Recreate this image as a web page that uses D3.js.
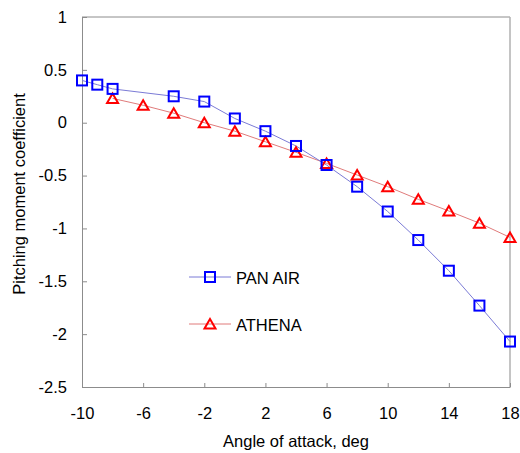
<!DOCTYPE html>
<html><head><meta charset="utf-8">
<script src="https://cdn.jsdelivr.net/npm/d3@7"></script>
<style>body{margin:0;background:#fff}svg text{font-family:"Liberation Sans",Arial,sans-serif;fill:#000}</style>
</head><body><svg id="c" width="520" height="453"></svg>
<script>
const panAirX = [-10,-9,-8,-4,-2,0,2,4,6,8,10,12,14,16,18];
const panAirY = [0.40,0.36,0.32,0.25,0.20,0.04,-0.08,-0.22,-0.40,-0.605,-0.84,-1.11,-1.40,-1.73,-2.07];
const athenaX = [-8,-6,-4,-2,0,2,4,6,8,10,12,14,16,18];
const athenaY = [0.23,0.165,0.09,0.0,-0.08,-0.18,-0.28,-0.385,-0.495,-0.605,-0.725,-0.835,-0.95,-1.085];
const xTicks = [-10,-6,-2,2,6,10,14,18];
const yTicks = [1,0.5,0,-0.5,-1,-1.5,-2,-2.5];
const seriesNames = ["PAN AIR","ATHENA"];

const svg = d3.select("#c");
const L=82,R=510,T=17,B=387;
const FS=16.5;
const x = d3.scaleLinear().domain([-10,18]).range([L,R]);
const y = d3.scaleLinear().domain([-2.5,1]).range([B,T]);
const axisCol="#8c8c8c";

// frame top/right
svg.append("line").attr("x1",L).attr("x2",R).attr("y1",T).attr("y2",T).attr("stroke",axisCol);
svg.append("line").attr("x1",R).attr("x2",R).attr("y1",T).attr("y2",B).attr("stroke","#b0b0b0").attr("stroke-width",1.5);

const xa = svg.append("g").attr("transform",`translate(0,${B})`)
  .call(d3.axisBottom(x).tickValues(xTicks).tickFormat(d=>String(d)).tickSizeInner(-4).tickSizeOuter(0));
const ya = svg.append("g").attr("transform",`translate(${L},0)`)
  .call(d3.axisLeft(y).tickValues(yTicks).tickFormat(d=>String(d)).tickSizeInner(-5).tickSizeOuter(0).tickPadding(15));
[xa,ya].forEach(a=>{a.select(".domain").attr("stroke",axisCol);a.selectAll(".tick line").attr("stroke",axisCol);
  a.selectAll("text").attr("font-size",FS).attr("font-family","Liberation Sans, Arial, sans-serif");});
xa.selectAll(".tick text").attr("dy",null).attr("y",32);

svg.append("text").attr("x",296).attr("y",447).attr("text-anchor","middle").attr("font-size",FS).text("Angle of attack, deg");
svg.append("text").attr("transform","translate(25,194) rotate(-90)").attr("text-anchor","middle").attr("font-size",FS).text("Pitching moment coefficient");

const line = d3.line().x(d=>x(d[0])).y(d=>y(d[1]));
const pan = panAirX.map((v,i)=>[v,panAirY[i]]);
const ath = athenaX.map((v,i)=>[v,athenaY[i]]);
const blueLine="#7b7bd6", redLine="#e07b7b";
svg.append("path").datum(ath).attr("d",line).attr("fill","none").attr("stroke",redLine).attr("stroke-width",1);
svg.append("path").datum(pan).attr("d",line).attr("fill","none").attr("stroke",blueLine).attr("stroke-width",1);

function drawSq(g,px,py){g.append("rect").attr("x",px-5).attr("y",py-5).attr("width",10).attr("height",10).attr("fill","none").attr("stroke","#0000ff").attr("stroke-width",2);}
function drawTri(g,px,py){g.append("path").attr("d",`M${px},${py-5}L${px+5.5},${py+4.5}L${px-5.5},${py+4.5}Z`).attr("fill","none").attr("stroke","#ff0000").attr("stroke-width",2).attr("stroke-linejoin","miter");}
const mg = svg.append("g");
ath.forEach(d=>drawTri(mg,x(d[0]),y(d[1])));
pan.forEach(d=>drawSq(mg,x(d[0]),y(d[1])));

// legend
const lg = svg.append("g");
const legY=[277,324];
lg.append("line").attr("x1",189).attr("x2",231).attr("y1",legY[0]).attr("y2",legY[0]).attr("stroke",blueLine);
drawSq(lg,210,legY[0]);
lg.append("text").attr("x",236).attr("y",legY[0]+6.5).attr("font-size",FS).text(seriesNames[0]);
lg.append("line").attr("x1",189).attr("x2",231).attr("y1",legY[1]).attr("y2",legY[1]).attr("stroke",redLine);
drawTri(lg,210,legY[1]);
lg.append("text").attr("x",236).attr("y",legY[1]+6.5).attr("font-size",FS).text(seriesNames[1]);
</script></body></html>
